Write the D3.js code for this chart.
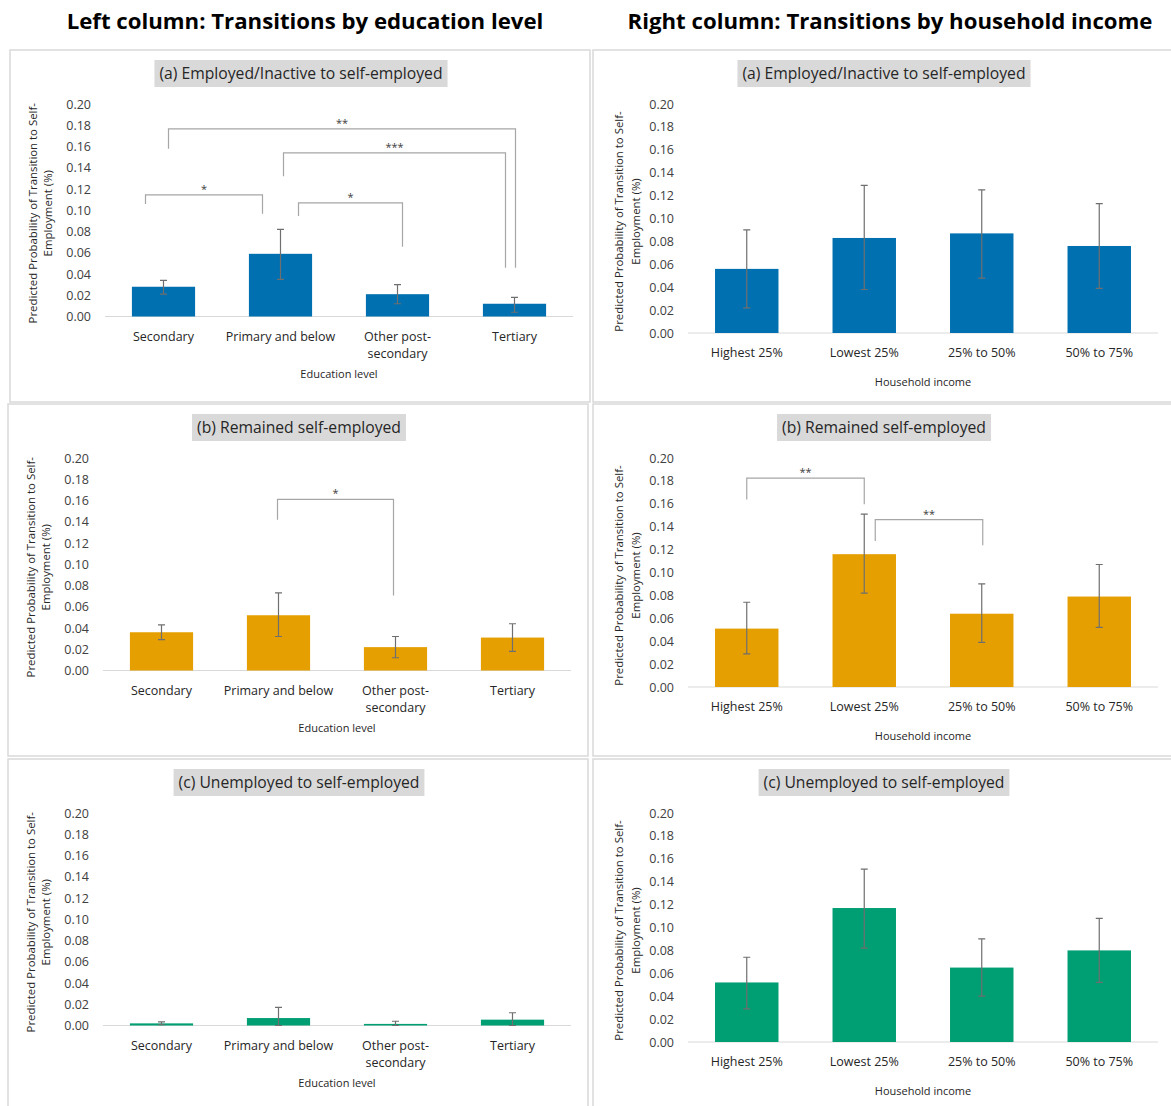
<!DOCTYPE html>
<html>
<head>
<meta charset="utf-8">
<script src="https://cdn.jsdelivr.net/npm/d3@7"></script>
<style>
  body { margin: 0; background: #fff; }
  text { font-family: "Open Sans", sans-serif; }
</style>
</head>
<body>
<div id="chart"></div>
<script>
var W = 1171, H = 1106;

// categories
var eduCats = ["Secondary", "Primary and below", "Other post-secondary", "Tertiary"];
var eduLabels = [["Secondary"], ["Primary and below"], ["Other post-", "secondary"], ["Tertiary"]];
var incCats = ["Highest 25%", "Lowest 25%", "25% to 50%", "50% to 75%"];
var yTicks = [0, 0.02, 0.04, 0.06, 0.08, 0.10, 0.12, 0.14, 0.16, 0.18, 0.20];

// education level (left column)
var eduEmp   = [0.028, 0.059, 0.021, 0.012];
var eduEmpLo = [0.021, 0.035, 0.012, 0.004];
var eduEmpHi = [0.034, 0.082, 0.030, 0.018];

var eduRem   = [0.036, 0.052, 0.022, 0.031];
var eduRemLo = [0.029, 0.032, 0.012, 0.018];
var eduRemHi = [0.043, 0.073, 0.032, 0.044];

var eduUnemp   = [0.002, 0.007, 0.0015, 0.0055];
var eduUnempLo = [0.0007, 0.0, 0.0, 0.0];
var eduUnempHi = [0.0035, 0.017, 0.004, 0.012];

// household income (right column)
var incEmp   = [0.056, 0.083, 0.087, 0.076];
var incEmpLo = [0.022, 0.038, 0.048, 0.039];
var incEmpHi = [0.090, 0.129, 0.125, 0.113];

var incRem   = [0.051, 0.116, 0.064, 0.079];
var incRemLo = [0.029, 0.082, 0.039, 0.052];
var incRemHi = [0.074, 0.151, 0.090, 0.107];

var incUnemp   = [0.052, 0.117, 0.065, 0.080];
var incUnempLo = [0.029, 0.082, 0.040, 0.052];
var incUnempHi = [0.074, 0.151, 0.090, 0.108];

// significance brackets: [from, to, label, top, left end, right end]
var eduEmpSig = [
    [0, 1, "*", 0.1145, 0.106, 0.0966],
    [0, 3, "**", 0.1765, 0.158, 0.046],
    [1, 3, "***", 0.154, 0.132, 0.046],
    [1, 2, "*", 0.107, 0.0947, 0.0656]
];
var eduRemSig = [
    [1, 2, "*", 0.161, 0.142, 0.0707]
];
var incRemSig = [
    [0, 1, "**", 0.1825, 0.1637, 0.1596],
    [1, 2, "**", 0.1462, 0.1275, 0.1238]
];
// pixel nudges of bracket legs off the bar centres
var eduEmpNudge = [[-18, -18], [5, 1], [3, -9], [18, 5]];
var eduRemNudge = [[-1, -2]];
var incRemNudge = [[0, 0], [11, 1]];

var blue = "#0070b0", orange = "#e69f00", green = "#009e73";

var left  = {x0: 95, x1: 563, top: 54, bottom: 266.5, labX: [23, 38], labDy: 3, titleDy: 61.5, lab: eduLabels, xTitle: "Education level"};
var right = {x0: 95, x1: 565, top: 54, bottom: 283, labX: [26, 43], labDy: 3, titleDy: 52.5, lab: null, xTitle: "Household income"};

var panels = [
    {x: 10,  y: 50,  col: left,  cats: eduCats, v: eduEmp,   lo: eduEmpLo,   hi: eduEmpHi,   color: blue,   title: "(a) Employed/Inactive to self-employed", sig: eduEmpSig, nudge: eduEmpNudge},
    {x: 593, y: 50,  col: right, cats: incCats, v: incEmp,   lo: incEmpLo,   hi: incEmpHi,   color: blue,   title: "(a) Employed/Inactive to self-employed", sig: [], nudge: []},
    {x: 8,   y: 404, col: left,  cats: eduCats, v: eduRem,   lo: eduRemLo,   hi: eduRemHi,   color: orange, title: "(b) Remained self-employed", sig: eduRemSig, nudge: eduRemNudge},
    {x: 593, y: 404, col: right, cats: incCats, v: incRem,   lo: incRemLo,   hi: incRemHi,   color: orange, title: "(b) Remained self-employed", sig: incRemSig, nudge: incRemNudge},
    {x: 8,   y: 759, col: left,  cats: eduCats, v: eduUnemp, lo: eduUnempLo, hi: eduUnempHi, color: green,  title: "(c) Unemployed to self-employed", sig: [], nudge: []},
    {x: 593, y: 759, col: right, cats: incCats, v: incUnemp, lo: incUnempLo, hi: incUnempHi, color: green,  title: "(c) Unemployed to self-employed", sig: [], nudge: []}
];

var svg = d3.select("#chart")
    .append("svg")
        .attr("width", W)
        .attr("height", H);

svg.append("rect").attr("width", W).attr("height", H).attr("fill", "#fff");

// column headers
svg.append("text")
    .attr("x", 305).attr("y", 29)
    .attr("text-anchor", "middle")
    .style("font-size", "22.2px").style("font-weight", "bold")
    .text("Left column: Transitions by education level");
svg.append("text")
    .attr("x", 890).attr("y", 29)
    .attr("text-anchor", "middle")
    .style("font-size", "22.2px").style("font-weight", "bold")
    .text("Right column: Transitions by household income");

panels.forEach(function(p) {
    var c = p.col;
    var g = svg.append("g").attr("transform", "translate(" + p.x + "," + p.y + ")");

    // panel frame
    g.append("rect")
        .attr("x", 0).attr("y", 0)
        .attr("width", c === left ? 580 : 600).attr("height", 352)
        .attr("fill", "none").attr("stroke", "#d9d9d9").attr("stroke-width", 1.5);

    // title with grey box
    var tbox = g.append("rect").attr("fill", "#d9d9d9");
    var tt = g.append("text")
        .attr("x", 291).attr("y", 29)
        .attr("text-anchor", "middle")
        .style("font-size", "15.7px").attr("fill", "#262626")
        .text(p.title);
    var tw = tt.node().getComputedTextLength();
    tbox.attr("x", 291 - tw / 2 - 5).attr("y", 10).attr("width", tw + 10).attr("height", 27);

    var x = d3.scaleBand().domain(p.cats).range([c.x0, c.x1]).paddingInner(0.46).paddingOuter(0.23);
    var y = d3.scaleLinear().domain([0, 0.2]).range([c.bottom, c.top]);

    // y axis (labels only)
    var ya = g.append("g")
        .attr("transform", "translate(" + c.x0 + ",0)")
        .call(d3.axisLeft(y).tickValues(yTicks).tickFormat(d3.format(".2f")).tickSize(0).tickPadding(14));
    ya.select(".domain").remove();
    ya.selectAll("text").style("font-size", "12.5px").style("font-family", "'Open Sans', sans-serif").attr("fill", "#404040");

    // baseline
    g.append("line")
        .attr("x1", c.x0).attr("x2", c.x1)
        .attr("y1", y(0)).attr("y2", y(0))
        .attr("stroke", "#d9d9d9").attr("stroke-width", 1.2);

    // bars
    g.selectAll(".bar")
        .data(p.cats)
        .enter().append("rect")
            .attr("x", function(d) { return x(d); })
            .attr("y", function(d, i) { return y(p.v[i]); })
            .attr("width", x.bandwidth())
            .attr("height", function(d, i) { return y(0) - y(p.v[i]); })
            .attr("fill", p.color);

    // error bars
    p.cats.forEach(function(d, i) {
        var cx = x(d) + x.bandwidth() / 2;
        g.append("path")
            .attr("d", "M" + cx + "," + y(p.lo[i]) + "V" + y(p.hi[i]) +
                       "M" + (cx - 3.5) + "," + y(p.hi[i]) + "H" + (cx + 3.5) +
                       "M" + (cx - 3.5) + "," + y(p.lo[i]) + "H" + (cx + 3.5))
            .attr("fill", "none").attr("stroke", "#6f6f6f").attr("stroke-width", 1.2);
    });

    // x labels
    p.cats.forEach(function(d, i) {
        var lines = c.lab ? c.lab[i] : [d];
        var t = g.append("text")
            .attr("x", x(d) + x.bandwidth() / 2)
            .attr("y", y(0) + 24)
            .attr("text-anchor", "middle")
            .style("font-size", "12.5px").attr("fill", "#262626");
        lines.forEach(function(l, k) {
            t.append("tspan").attr("x", x(d) + x.bandwidth() / 2).attr("dy", k ? 17.5 : 0).text(l);
        });
    });

    // axis titles
    g.append("text")
        .attr("x", (c.x0 + c.x1) / 2).attr("y", y(0) + c.titleDy)
        .attr("text-anchor", "middle")
        .style("font-size", "11px").attr("fill", "#262626")
        .text(c.xTitle);

    var ym = (c.top + c.bottom) / 2 + c.labDy;
    var yl = g.append("text")
        .attr("transform", "rotate(-90)")
        .attr("text-anchor", "middle")
        .style("font-size", "11.4px").attr("fill", "#262626");
    yl.append("tspan").attr("x", -ym).attr("y", c.labX[0] + 4).text("Predicted Probability of Transition to Self-");
    yl.append("tspan").attr("x", -ym).attr("y", c.labX[1] + 4).text("Employment (%)");

    // significance brackets
    p.sig.forEach(function(s, k) {
        var x1 = x(p.cats[s[0]]) + x.bandwidth() / 2 + p.nudge[k][0];
        var x2 = x(p.cats[s[1]]) + x.bandwidth() / 2 + p.nudge[k][1];
        g.append("path")
            .attr("d", "M" + x1 + "," + y(s[4]) + "V" + y(s[3]) + "H" + x2 + "V" + y(s[5]))
            .attr("fill", "none").attr("stroke", "#a6a6a6").attr("stroke-width", 1.2);
        g.append("text")
            .attr("x", (x1 + x2) / 2).attr("y", y(s[3]) - 2)
            .attr("text-anchor", "middle")
            .style("font-size", "11px").attr("fill", "#404040")
            .text(s[2]);
    });
});
</script>
</body>
</html>
